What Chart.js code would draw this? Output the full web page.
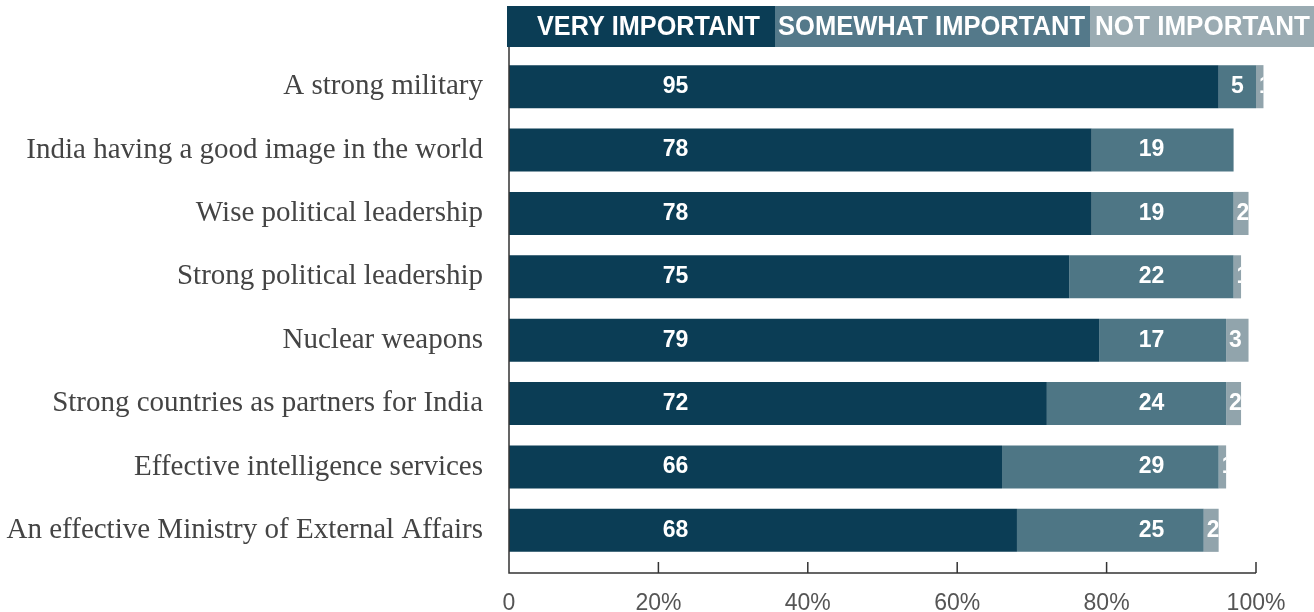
<!DOCTYPE html>
<html>
<head>
<meta charset="utf-8">
<script src="https://cdn.jsdelivr.net/npm/chart.js@4.4.1/dist/chart.umd.min.js"></script>
<style>
  html, body { margin: 0; padding: 0; background: #fff; }
  #wrap { width: 1314px; height: 612px; position: relative; }
</style>
</head>
<body>
<div id="wrap"><canvas id="chart"></canvas></div>
<script>
const categories = [
  'A strong military',
  'India having a good image in the world',
  'Wise political leadership',
  'Strong political leadership',
  'Nuclear weapons',
  'Strong countries as partners for India',
  'Effective intelligence services',
  'An effective Ministry of External Affairs'
];
const seriesNames = ['VERY IMPORTANT', 'SOMEWHAT IMPORTANT', 'NOT IMPORTANT'];
const veryImportant = [95, 78, 78, 75, 79, 72, 66, 68];
const somewhatImportant = [5, 19, 19, 22, 17, 24, 29, 25];
const notImportant = [1, 0, 2, 1, 3, 2, 1, 2];
const xTicks = [0, 20, 40, 60, 80, 100];

const colors = ['#0b3d55', '#4e7685', '#91a4ac'];
const headerColors = ['#0b3d55', '#54798a', '#9aabb2'];

// header strip acting as legend
const headerPlugin = {
  id: 'header',
  beforeDraw(chart) {
    const ctx = chart.ctx;
    const boxes = [[507, 775, 537, 760], [775, 1090, 778, 1085], [1090, 1314, 1095, 1310]];
    ctx.save();
    boxes.forEach((b, i) => {
      ctx.fillStyle = headerColors[i];
      ctx.fillRect(b[0], 6, b[1] - b[0], 41);
      ctx.font = 'bold 27px "Liberation Sans Narrow", "Liberation Sans", sans-serif';
      ctx.fillStyle = '#fff';
      ctx.textBaseline = 'middle';
      const w = ctx.measureText(seriesNames[i]).width;
      const sx = (b[3] - b[2]) / w;
      ctx.save();
      ctx.translate(b[2], 28);
      ctx.scale(sx, 1);
      ctx.fillText(seriesNames[i], 0, 0);
      ctx.restore();
    });
    ctx.restore();
  }
};

// axis lines with ticks pointing up into the plot
const axisPlugin = {
  id: 'axes',
  afterDraw(chart) {
    const ctx = chart.ctx;
    const area = chart.chartArea;
    const xs = chart.scales.x;
    const yBase = 573;
    ctx.save();
    ctx.strokeStyle = '#333';
    ctx.lineWidth = 1.5;
    ctx.beginPath();
    ctx.moveTo(area.left, 47);
    ctx.lineTo(area.left, yBase);
    ctx.lineTo(xs.getPixelForValue(100), yBase);
    xTicks.forEach(t => {
      const px = xs.getPixelForValue(t);
      ctx.moveTo(px, yBase);
      ctx.lineTo(px, yBase - 11);
    });
    ctx.stroke();
    ctx.restore();
  }
};

const valuePlugin = {
  id: 'values',
  afterDatasetsDraw(chart) {
    const ctx = chart.ctx;
    const xs = chart.scales.x;
    ctx.save();
    ctx.font = 'bold 23px "Liberation Sans", Arial, sans-serif';
    ctx.fillStyle = '#fff';
    ctx.textBaseline = 'middle';
    chart.data.datasets.forEach((ds, d) => {
      const meta = chart.getDatasetMeta(d);
      meta.data.forEach((bar, i) => {
        const v = ds.data[i];
        if (!v) return;
        const left = Math.min(bar.x, bar.base);
        const right = Math.max(bar.x, bar.base);
        const top = bar.y - bar.height / 2;
        ctx.save();
        ctx.beginPath();
        ctx.rect(left, top, right - left, bar.height);
        ctx.clip();
        if (d === 0) {
          ctx.textAlign = 'center';
          ctx.fillText(String(v), xs.getPixelForValue(22.3), bar.y);
        } else if (d === 1) {
          const start = veryImportant[i];
          const pos = start >= 86 ? start + v / 2 : 86;
          ctx.textAlign = 'center';
          ctx.fillText(String(v), xs.getPixelForValue(pos), bar.y);
        } else {
          ctx.textAlign = 'left';
          ctx.fillText(String(v), left + 3, bar.y);
        }
        ctx.restore();
      });
    });
    ctx.restore();
  }
};

new Chart(document.getElementById('chart'), {
  type: 'bar',
  data: {
    labels: categories,
    datasets: [veryImportant, somewhatImportant, notImportant].map((data, i) => ({
      label: seriesNames[i],
      data: data,
      backgroundColor: colors[i],
      borderWidth: 0,
      categoryPercentage: 1,
      barPercentage: 0.68,
      clip: false
    }))
  },
  options: {
    indexAxis: 'y',
    responsive: true,
    maintainAspectRatio: false,
    animation: false,
    layout: { padding: { top: 55, right: 58, left: 0, bottom: 0 } },
    plugins: {
      legend: { display: false },
      tooltip: { enabled: false }
    },
    scales: {
      x: {
        stacked: true,
        min: 0,
        max: 100,
        afterFit(scale) { scale.height = 50; },
        grid: { display: false, drawTicks: false },
        border: { display: false },
        ticks: {
          stepSize: 20,
          padding: 28,
          color: '#555',
          font: { family: '"Liberation Sans", Arial, sans-serif', size: 23 },
          callback: v => (v === 0 ? '0' : v + '%')
        }
      },
      y: {
        stacked: true,
        afterFit(scale) { scale.width = 509; },
        grid: { display: false, drawTicks: false },
        border: { display: false },
        ticks: {
          padding: 26,
          color: '#444',
          font: { family: '"Liberation Serif", "Times New Roman", serif', size: 29 }
        }
      }
    }
  },
  plugins: [headerPlugin, axisPlugin, valuePlugin]
});
</script>
</body>
</html>
